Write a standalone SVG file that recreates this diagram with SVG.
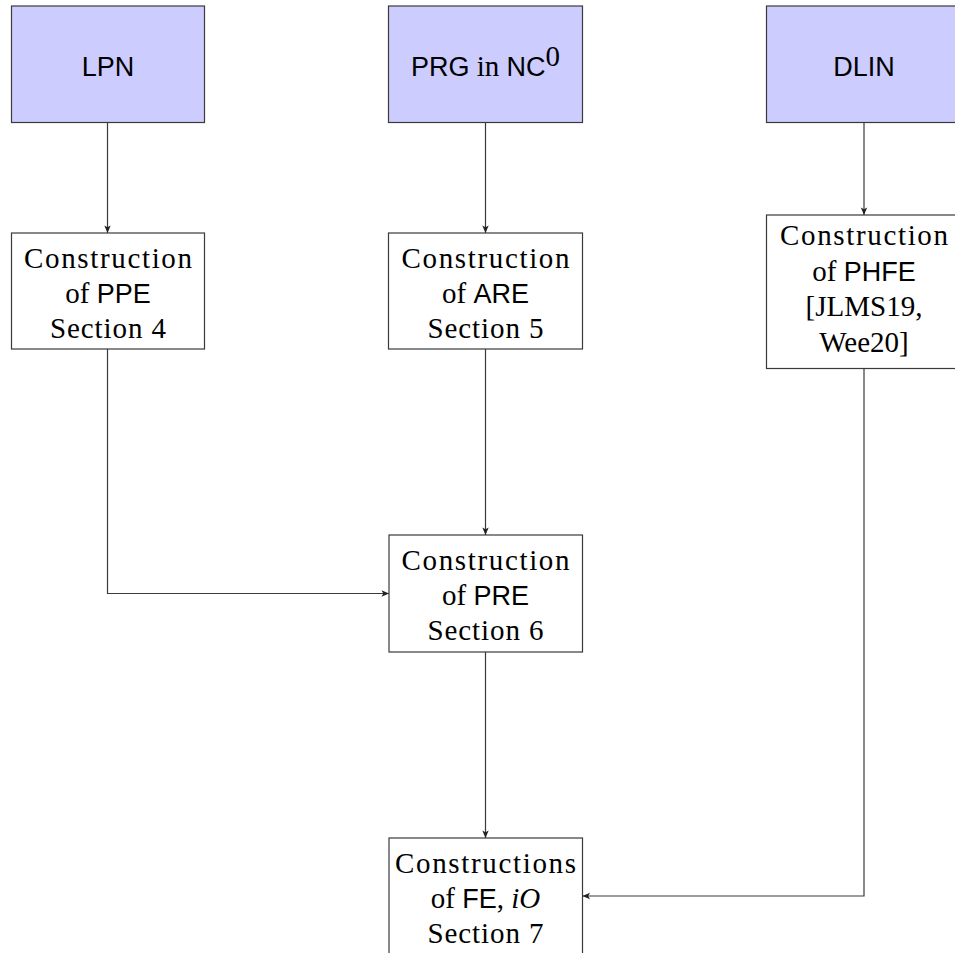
<svg xmlns="http://www.w3.org/2000/svg" width="955" height="953" viewBox="0 0 955 953">
<style>
.box{fill:#ffffff;stroke:#3a3a3a;stroke-width:1.2}
.src{fill:#ccccff;stroke:#3a3a3a;stroke-width:1.2}
.sf{font-family:"Liberation Serif","Times New Roman",serif;font-size:29px;fill:#000}
.ss{font-family:"Liberation Sans",Arial,sans-serif;font-size:27px;fill:#000}
.t{text-anchor:middle}
.edge{fill:none;stroke:#3a3a3a;stroke-width:1.2}
</style>
<defs>
<marker id="arr" markerUnits="userSpaceOnUse" markerWidth="10" markerHeight="10" viewBox="0 0 10 10" refX="9.5" refY="5" orient="auto">
<path d="M2,1.8 L9.5,5 L2,8.2 L3.8,5 Z" fill="#222"/>
</marker>
</defs>
<rect width="955" height="953" fill="#ffffff"/>

<g id="connectors">
<path class="edge" d="M107.5,122.5 V233" marker-end="url(#arr)"/>
<path class="edge" d="M485.5,122.5 V233" marker-end="url(#arr)"/>
<path class="edge" d="M864,122.5 V215" marker-end="url(#arr)"/>
<path class="edge" d="M485.5,349 V535" marker-end="url(#arr)"/>
<path class="edge" d="M107.5,349 V593.5 H389" marker-end="url(#arr)"/>
<path class="edge" d="M485.5,652 V838" marker-end="url(#arr)"/>
<path class="edge" d="M864,368.5 V896 H582.5" marker-end="url(#arr)"/>
</g>

<g id="lpn">
<rect class="src" x="11.5" y="6" width="193" height="116.5"/>
<text class="ss t" x="108" y="76">LPN</text>
</g>

<g id="prg">
<rect class="src" x="388.5" y="6" width="194" height="116.5"/>
<text class="t" x="485.5" y="76"><tspan class="ss">PRG</tspan><tspan class="sf"> in </tspan><tspan class="ss">NC</tspan><tspan class="sf" font-size="20" dy="-10">0</tspan></text>
</g>

<g id="dlin">
<rect class="src" x="766.5" y="6" width="195" height="116.5"/>
<text class="ss t" x="864" y="76">DLIN</text>
</g>

<g id="ppe">
<rect class="box" x="11.5" y="233" width="193" height="116"/>
<text class="sf t" x="108" y="267.5" textLength="168" lengthAdjust="spacing">Construction</text>
<text class="t" x="108" y="302.5"><tspan class="sf">of </tspan><tspan class="ss">PPE</tspan></text>
<text class="sf t" x="108" y="337.5" textLength="116" lengthAdjust="spacing">Section 4</text>
</g>

<g id="are">
<rect class="box" x="388.5" y="233" width="194" height="116"/>
<text class="sf t" x="485.5" y="267.5" textLength="168" lengthAdjust="spacing">Construction</text>
<text class="t" x="485.5" y="302.5"><tspan class="sf">of </tspan><tspan class="ss">ARE</tspan></text>
<text class="sf t" x="485.5" y="337.5" textLength="116" lengthAdjust="spacing">Section 5</text>
</g>

<g id="phfe">
<rect class="box" x="766.5" y="215" width="195" height="153.5"/>
<text class="sf t" x="864" y="245" textLength="168" lengthAdjust="spacing">Construction</text>
<text class="t" x="864" y="280.5"><tspan class="sf">of </tspan><tspan class="ss">PHFE</tspan></text>
<text class="sf t" x="864" y="316">[JLMS19,</text>
<text class="sf t" x="864" y="351.5">Wee20]</text>
</g>

<g id="pre">
<rect class="box" x="389" y="535" width="193.5" height="117"/>
<text class="sf t" x="485.5" y="569.5" textLength="168" lengthAdjust="spacing">Construction</text>
<text class="t" x="485.5" y="604.5"><tspan class="sf">of </tspan><tspan class="ss">PRE</tspan></text>
<text class="sf t" x="485.5" y="639.5" textLength="116" lengthAdjust="spacing">Section 6</text>
</g>

<g id="fe">
<rect class="box" x="389" y="838" width="193.5" height="117"/>
<text class="sf t" x="485.5" y="872.5" textLength="181" lengthAdjust="spacing">Constructions</text>
<text class="t" x="485.5" y="907.5"><tspan class="sf">of </tspan><tspan class="ss">FE</tspan><tspan class="sf">, </tspan><tspan class="sf" font-style="italic">iO</tspan></text>
<text class="sf t" x="485.5" y="942.5" textLength="116" lengthAdjust="spacing">Section 7</text>
</g>
</svg>
